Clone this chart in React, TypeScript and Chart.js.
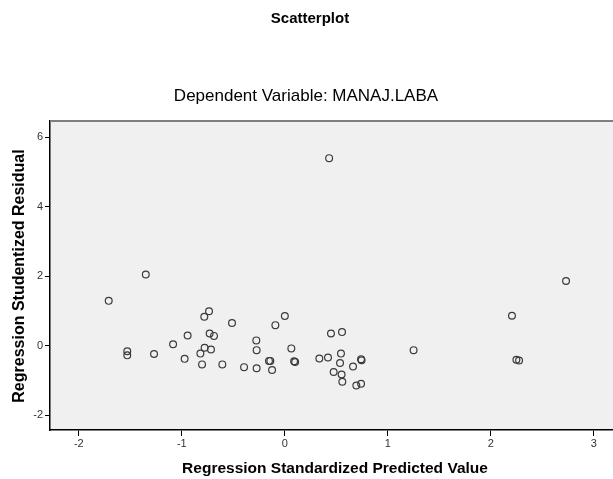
import React, { useEffect, useRef } from "react";
import { Chart, registerables } from "chart.js";

Chart.register(...registerables);

const titleText = "Scatterplot";
const subtitleText = "Dependent Variable: MANAJ.LABA";
const xAxisTitle = "Regression Standardized Predicted Value";
const yAxisTitle = "Regression Studentized Residual";

const xTicks = [-2, -1, 0, 1, 2, 3];
const yTicks = [-2, 0, 2, 4, 6];

const predictedValues = [
  -1.35, 0.43, 2.73, -1.71, -1.53, -1.53, -1.27, -1.085, -0.973, -0.944,
  -0.82, -0.804, -0.782, -0.736, -0.779, -0.73, -0.688, -0.717, -0.607, -0.513,
  -0.396, -0.277, -0.274, -0.274, -0.154, -0.141, -0.124, -0.092, 0.0, 0.063,
  0.09, 0.1, 0.335, 0.419, 0.448, 0.555, 0.545, 0.536, 0.474, 0.551,
  0.558, 0.662, 0.694, 0.74, 0.74, 0.745, 1.25, 2.205, 2.248, 2.274,
];
const studentizedResiduals = [
  2.05, 5.4, 1.86, 1.29, -0.16, -0.28, -0.24, 0.04, -0.38, 0.29,
  -0.23, -0.54, 0.83, 0.99, -0.06, 0.35, 0.28, -0.11, -0.54, 0.65,
  -0.62, 0.15, -0.13, -0.65, -0.44, -0.44, -0.7, 0.59, 0.85, -0.08,
  -0.45, -0.47, -0.37, -0.34, 0.35, 0.39, -0.23, -0.5, -0.76, -0.83,
  -1.04, -0.6, -1.15, -1.1, -0.39, -0.42, -0.13, 0.86, -0.41, -0.43,
];

const FONT = "'Liberation Sans', Arial, sans-serif";

const decorPlugin = {
  id: "decor",
  beforeDraw(chart: any) {
    const { ctx, chartArea } = chart;
    ctx.save();
    ctx.fillStyle = "#f0f0f0";
    ctx.fillRect(chartArea.left, chartArea.top, chartArea.right - chartArea.left, chartArea.bottom - chartArea.top);
    ctx.restore();
  },
  afterDraw(chart: any) {
    const { ctx, chartArea } = chart;
    ctx.save();
    ctx.strokeStyle = "#7f7f7f";
    ctx.lineWidth = 2;
    ctx.beginPath();
    ctx.moveTo(chartArea.left, chartArea.top);
    ctx.lineTo(chartArea.right, chartArea.top);
    ctx.stroke();

    ctx.fillStyle = "#000";
    ctx.textAlign = "center";
    ctx.textBaseline = "middle";
    ctx.font = `bold 15px ${FONT}`;
    ctx.fillText(titleText, 310, 19);
    ctx.font = `17px ${FONT}`;
    ctx.fillText(subtitleText, 306, 96);
    ctx.font = `bold 15.5px ${FONT}`;
    ctx.fillText(xAxisTitle, 335, 469);
    ctx.font = `bold 16px ${FONT}`;
    ctx.translate(20, 276);
    ctx.rotate(-Math.PI / 2);
    ctx.fillText(yAxisTitle, 0, 0);
    ctx.restore();
  },
};

export default function App() {
  const canvasRef = useRef<HTMLCanvasElement | null>(null);

  useEffect(() => {
    if (!canvasRef.current) return;
    const points = predictedValues.map((x, i) => ({ x, y: studentizedResiduals[i] }));
    const chart = new Chart(canvasRef.current, {
      type: "scatter",
      data: {
        datasets: [
          {
            data: points,
            pointRadius: 3.4,
            pointHoverRadius: 3.4,
            pointBorderWidth: 1.2,
            pointBorderColor: "#3a3a3a",
            pointBackgroundColor: "rgba(0,0,0,0)",
          },
        ],
      },
      options: {
        animation: false,
        responsive: false,
        devicePixelRatio: 1,
        layout: { autoPadding: false, padding: { top: 121, left: 0, right: 0, bottom: 0 } },
        plugins: {
          legend: { display: false },
          tooltip: { enabled: false },
          title: { display: false },
        },
        scales: {
          x: {
            type: "linear",
            min: -2.28,
            max: 3.186,
            afterFit(scale: any) {
              scale.height = 49;
              scale.paddingLeft = 0;
              scale.paddingRight = 0;
            },
            afterBuildTicks(scale: any) {
              scale.ticks = xTicks.map((v) => ({ value: v }));
            },
            ticks: {
              color: "#333",
              font: { family: FONT, size: 11 },
              padding: 1,
              includeBounds: false,
            },
            grid: {
              display: true,
              drawOnChartArea: false,
              drawTicks: true,
              tickLength: 6,
              color: "#000",
            },
            border: { display: true, color: "#000", width: 1.5 },
          },
          y: {
            type: "linear",
            min: -2.43,
            max: 6.47,
            afterFit(scale: any) {
              scale.width = 50;
              scale.paddingTop = 0;
              scale.paddingBottom = 0;
            },
            afterBuildTicks(scale: any) {
              scale.ticks = yTicks.map((v) => ({ value: v }));
            },
            ticks: {
              color: "#333",
              font: { family: FONT, size: 11 },
              padding: 2,
              includeBounds: false,
            },
            grid: {
              display: true,
              drawOnChartArea: false,
              drawTicks: true,
              tickLength: 5,
              color: "#000",
            },
            border: { display: true, color: "#000", width: 1.5 },
          },
        },
      },
      plugins: [decorPlugin],
    });
    return () => chart.destroy();
  }, []);

  return (
    <div style={{ position: "fixed", left: 0, top: 0, width: 613, height: 479, background: "#fff" }}>
      <canvas ref={canvasRef} width={613} height={479} style={{ display: "block" }} />
    </div>
  );
}
